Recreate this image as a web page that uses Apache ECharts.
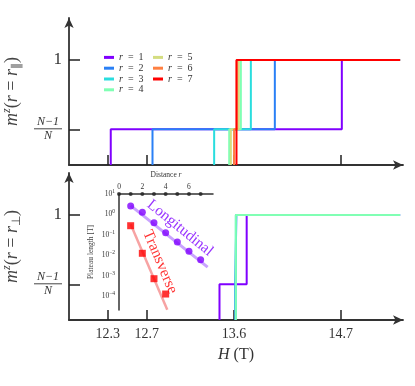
<!DOCTYPE html>
<html><head><meta charset="utf-8">
<script src="https://cdn.jsdelivr.net/npm/echarts@6/dist/echarts.min.js"></script>
<style>html,body{margin:0;padding:0;background:#fff}#c{width:415px;height:386px}</style>
</head><body><div id="c"></div>
<script>
// ---- data ----
const rNames = ['r = 1','r = 2','r = 3','r = 4','r = 5','r = 6','r = 7'];
const rColors = ['#8000ff','#2a80f6','#2addde','#80ffb4','#d4dd80','#ff8042','#ff0000'];
// longitudinal (r = r_parallel): field where m^z leaves the bottom and where it reaches 1
const parRise = [12.33, 12.76, 13.395, 13.55, 13.567, 13.60, 13.625];
const parFull = [14.71, 14.02, 13.773, 13.67, 13.649, 13.628, 13.625];
// transverse (r = r_perp)
const perpRise = [13.45, 13.612, 13.617, 13.618];
const perpFull = [13.73, 13.624, 13.619, 13.618];
const MID = 0.34;          // (N-1)/N level
const H_END = 15.31;
const yTickVals = [MID, 1];
const hTicks = [12.3, 12.7, 13.6, 14.7];
// inset
const longDist = [1,2,3,4,5,6,7];
const longPlateau = [2.58,1.27,0.39,0.127,0.044,0.0155,0.006];
const transDist = [1,2,3,4];
const transPlateau = [0.279,0.0124,7.05e-4,1.25e-4];
const longFit = [[1,2.7],[7.6,0.0026]];
const transFit = [[1,0.33],[4.14,2.1e-5]];
const axisDots = [0,1,2,3,4,5,6,7];
const insetXTicks = [0,2,4,6];
const insetYTicks = [1e-4,1e-3,1e-2,1e-1,1,10];

// ---- chart ----
const FONT = 'Liberation Serif';
const AX = '#333';
function stepPts(h1, h2){ return [[h1,0],[h1,MID],[h2,MID],[h2,1],[H_END,1]]; }

const mainX = (gi, showLabels) => ({
  type:'value', gridIndex:gi, min:11.9, max:15.34,
  axisLine:{show:true, lineStyle:{color:AX, width:1.8}, symbol:['none','arrow'], symbolSize:[7,10]},
  axisTick:{show:true, inside:true, length:10, customValues:hTicks, lineStyle:{color:'#222', width:1.5}},
  axisLabel:{show:showLabels, customValues:hTicks, fontFamily:FONT, fontSize:14, color:'#333', margin:7},
  splitLine:{show:false},
  name: showLabels ? '{i|H} (T)' : '', nameLocation:'middle', nameGap:27,
  nameTextStyle:{fontFamily:FONT, fontSize:16, color:'#333', rich:{i:{fontFamily:FONT,fontSize:16,fontStyle:'italic',color:'#333'}}}
});
const nameRich = {
  i:{fontFamily:FONT,fontSize:18,fontStyle:'italic',color:'#444'},
  n:{fontFamily:FONT,fontSize:18,color:'#444'},
  sup:{fontFamily:FONT,fontSize:12,fontStyle:'italic',color:'#444',padding:[0,0,12,0]},
  sub:{fontFamily:FONT,fontSize:12,color:'#444',padding:[9,0,0,0]}
};
const mainY = (gi, sym) => ({
  type:'value', gridIndex:gi, min:0, max:1.4,
  axisLine:{show:true, lineStyle:{color:AX, width:1.8}, symbol:['none','arrow'], symbolSize:[7,10]},
  axisTick:{show:true, inside:true, length:11, customValues:yTickVals, lineStyle:{color:'#222', width:1.5}},
  axisLabel:{customValues:yTickVals, margin:7, color:'#333',
    formatter: v => v === 1 ? '{one|1}' : '{num|N\u22121}\n{bar|x}\n{den|N}',
    rich:{
      one:{fontFamily:FONT,fontSize:17,color:'#333'},
      num:{fontFamily:FONT,fontSize:12,fontStyle:'italic',color:'#333',lineHeight:11,align:'center'},
      bar:{fontSize:1,color:'rgba(0,0,0,0)',height:1,width:28,lineHeight:3,backgroundColor:'#444',align:'center'},
      den:{fontFamily:FONT,fontSize:12,fontStyle:'italic',color:'#333',lineHeight:12,align:'center'}
    }},
  splitLine:{show:false},
  name:'{i|m}{sup|z}{n|(}{i|r}{n| = }{i|r}{sub|'+sym+'}{n|)}', nameLocation:'middle', nameRotate:90, nameGap:32,
  nameTextStyle:{rich:nameRich}
});

const series = [];
parRise.forEach((h,i)=>{
  series.push({type:'line', name:rNames[i], xAxisIndex:0, yAxisIndex:0, data:stepPts(h, parFull[i]),
    symbol:'none', lineStyle:{color:rColors[i], width:2}, itemStyle:{color:rColors[i]}, animation:false, z:2});
});
perpRise.forEach((h,i)=>{
  series.push({type:'line', name:rNames[i], xAxisIndex:1, yAxisIndex:1, data:stepPts(h, perpFull[i]),
    symbol:'none', lineStyle:{color:rColors[i], width:2}, itemStyle:{color:rColors[i]}, animation:false, z:2});
});
// inset
series.push({type:'line', xAxisIndex:2, yAxisIndex:2, data:longFit, symbol:'none', lineStyle:{color:'#c9a3ff', width:3}, animation:false, z:3, silent:true});
series.push({type:'line', xAxisIndex:2, yAxisIndex:2, data:transFit, symbol:'none', lineStyle:{color:'#f7a3a3', width:2.5}, animation:false, z:3, silent:true});
series.push({type:'scatter', xAxisIndex:2, yAxisIndex:2, data:longDist.map((r,i)=>[r,longPlateau[i]]), symbol:'circle', symbolSize:7, itemStyle:{color:'#8000ff'}, animation:false, z:4, clip:false});
series.push({type:'scatter', xAxisIndex:2, yAxisIndex:2, data:transDist.map((r,i)=>[r,transPlateau[i]]), symbol:'rect', symbolSize:7, itemStyle:{color:'#ff0000'}, animation:false, z:4, clip:false});
series.push({type:'scatter', xAxisIndex:2, yAxisIndex:2, data:axisDots.map(r=>[r,10]), symbol:'circle', symbolSize:4, itemStyle:{color:'#222'}, animation:false, z:5, clip:false});
// rotated labels
series.push({type:'scatter', xAxisIndex:2, yAxisIndex:2, data:[[5.23,0.215]], symbolSize:0, clip:false, animation:false, z:6,
  label:{show:true, position:'inside', formatter:'Longitudinal', rotate:-39, fontFamily:FONT, fontSize:15.5, color:'#8000ff'}});
series.push({type:'scatter', xAxisIndex:2, yAxisIndex:2, data:[[3.51,0.0047]], symbolSize:0, clip:false, animation:false, z:6,
  label:{show:true, position:'inside', formatter:'Transverse', rotate:-67, fontFamily:FONT, fontSize:15.5, color:'#ff0000'}});

const legendCommon = {orient:'vertical', itemWidth:10, itemHeight:3, itemGap:0, icon:'rect',
  textStyle:{fontFamily:FONT, fontSize:10, color:'#333', lineHeight:10.8,
    rich:{i:{fontFamily:FONT,fontSize:10,fontStyle:'italic',color:'#333'}, t:{fontFamily:FONT,fontSize:10,color:'#333'}}},
  formatter: n => '{i|r}{t|\u2002=\u2002' + n.slice(4) + '}', selectedMode:false};

const gridCommon = {containLabel:false, outerBoundsMode:'none'};
const option = {
  backgroundColor:'#fff',
  animation:false,
  grid:[
    Object.assign({left:69, top:18, width:334, height:147}, gridCommon),
    Object.assign({left:69, top:173, width:334, height:147}, gridCommon),
    Object.assign({left:119, top:194, width:94, height:116}, gridCommon)
  ],
  xAxis:[ mainX(0,false), mainX(1,true),
    {type:'value', gridIndex:2, position:'top', min:0, max:8.06,
     axisLine:{show:true, onZero:false, lineStyle:{color:AX, width:1.5}},
     axisTick:{show:false},
     axisLabel:{customValues:insetXTicks, fontFamily:FONT, fontSize:7.5, color:'#333', margin:3},
     splitLine:{show:false},
     name:'Distance {i|r}', nameLocation:'middle', nameGap:15,
     nameTextStyle:{fontFamily:FONT, fontSize:7.5, color:'#333', rich:{i:{fontFamily:FONT,fontSize:7.5,fontStyle:'italic',color:'#333'}}}}
  ],
  yAxis:[ mainY(0,'\u2225'), mainY(1,'\u22a5'),
    {type:'log', gridIndex:2, min:2.06e-5, max:10,
     axisLine:{show:true, lineStyle:{color:AX, width:1.5}},
     axisTick:{show:false},
     axisLabel:{customValues:insetYTicks, margin:4, color:'#333',
       formatter: v => { const e = Math.round(Math.log10(v)); return '{b|10}{s|' + (e<0 ? '\u2212'+(-e) : e) + '}'; },
       rich:{b:{fontFamily:FONT,fontSize:7.5,color:'#333'}, s:{fontFamily:FONT,fontSize:5.5,color:'#333',padding:[0,0,5,0]}}},
     splitLine:{show:false},
     name:'Plateau length [T]', nameLocation:'middle', nameRotate:90, nameGap:24,
     nameTextStyle:{fontFamily:FONT, fontSize:7.5, color:'#444'}}
  ],
  legend:[
    Object.assign({left:99, top:47, data:rNames.slice(0,4)}, legendCommon),
    Object.assign({left:148, top:47, data:rNames.slice(4)}, legendCommon)
  ],
  series
};
const chart = echarts.init(document.getElementById('c'), null, {renderer:'canvas'});
chart.setOption(option);
</script>
</body></html>
